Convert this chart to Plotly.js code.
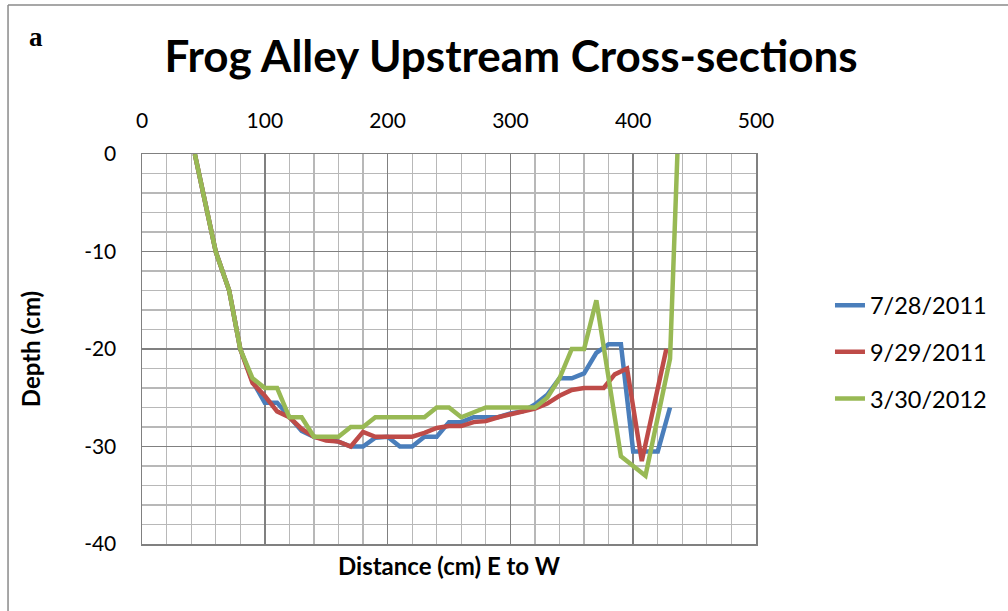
<!DOCTYPE html>
<html>
<head>
<meta charset="utf-8">
<script src="https://cdn.plot.ly/plotly-3.0.1.min.js"></script>
<style>html,body{margin:0;padding:0;background:#fff;}#chart{width:1008px;height:611px;}</style>
</head>
<body>
<div id="chart"></div>
<script>
// Series names
const seriesNames = ["7/28/2011", "9/29/2011", "3/30/2012"];

// 7/28/2011
const distJul2011 = [43, 60, 71, 80, 90, 100, 110, 120, 130, 140, 150, 160, 170, 180, 190, 200, 210, 220, 230, 240, 250, 260, 270, 280, 290, 300, 310, 320, 330, 340, 350, 360, 370, 380, 390, 400, 410, 420, 430];
const depthJul2011 = [0, -10, -14, -20, -23.3, -25.5, -25.5, -27, -28.4, -29, -29.3, -29.5, -30, -30, -29.1, -29, -30, -30, -29, -29, -27.5, -27.5, -27, -27, -27, -26.6, -26.4, -25.7, -24.7, -23, -23, -22.5, -20.4, -19.5, -19.5, -30.5, -30.5, -30.5, -26];

// 9/29/2011
const distSep2011 = [43, 60, 71, 80, 90, 100, 110, 120, 130, 140, 150, 160, 170, 180, 190, 200, 210, 220, 230, 240, 250, 260, 270, 280, 290, 300, 310, 320, 330, 340, 350, 360, 370, 376, 385, 395, 407, 427];
const depthSep2011 = [0, -10, -14, -20, -23.5, -24.8, -26.4, -27, -28.2, -29, -29.4, -29.5, -30, -28.5, -29, -29, -29, -29, -28.6, -28.1, -27.9, -27.9, -27.5, -27.4, -27, -26.7, -26.3, -26.1, -25.6, -24.8, -24.2, -24, -24, -24, -22.6, -22, -31.5, -20];

// 3/30/2012
const distMar2012 = [43, 60, 71, 80, 90, 100, 110, 120, 130, 140, 150, 160, 170, 180, 190, 200, 210, 220, 230, 240, 250, 260, 270, 280, 290, 300, 310, 320, 330, 340, 350, 360, 370, 390, 410, 430, 436];
const depthMar2012 = [0, -10, -14, -20, -23, -24, -24, -27, -27, -29, -29, -29, -28, -28, -27, -27, -27, -27, -27, -26, -26, -27, -26.5, -26, -26, -26, -26, -26, -25, -23, -20, -20, -15, -31, -33, -21, 0];

// Axis ticks
const xTicks = [0, 100, 200, 300, 400, 500];
const yTicks = [0, -10, -20, -30, -40];

const colors = ["#4A7EBB", "#BE4B48", "#98B954"];
const FONT = "Lato, 'Open Sans', sans-serif";

const xs = [distJul2011, distSep2011, distMar2012];
const ys = [depthJul2011, depthSep2011, depthMar2012];

const traces = seriesNames.map((n, i) => ({
  type: "scatter",
  mode: "lines",
  name: n,
  legendgroup: "g" + i,
  x: xs[i],
  y: ys[i],
  line: {color: colors[i], width: 4.5},
  hoverinfo: "skip"
}));

const majorGrid = "#808080";
const minorGrid = "#b8b8b8";

const layout = {
  width: 1008,
  height: 611,
  margin: {l: 142, r: 252, t: 154, b: 67, pad: 0},
  paper_bgcolor: "#ffffff",
  plot_bgcolor: "#ffffff",
  font: {family: FONT, color: "#000000", size: 21},
  title: {
    text: "<b>Frog Alley Upstream Cross-sections</b>",
    font: {family: FONT, size: 44, color: "#000000"},
    x: 0.507, xref: "container", xanchor: "center",
    y: 0.907, yref: "container", yanchor: "middle"
  },
  xaxis: {
    side: "top",
    range: [0, 500],
    tickmode: "array",
    tickvals: xTicks,
    ticktext: xTicks.map(String),
    ticks: "",
    ticklabelstandoff: 16,
    showgrid: true,
    gridcolor: majorGrid,
    gridwidth: 1.5,
    minor: {dtick: 20, showgrid: true, gridcolor: minorGrid, gridwidth: 1.2, ticks: ""},
    showline: true,
    mirror: true,
    linecolor: majorGrid,
    linewidth: 1.5,
    zeroline: false,
    tickfont: {family: FONT, size: 21, color: "#000"},
    fixedrange: true
  },
  yaxis: {
    range: [-40, 0],
    tickmode: "array",
    tickvals: yTicks,
    ticktext: yTicks.map(String),
    ticks: "",
    ticklabelstandoff: 20,
    showgrid: true,
    gridcolor: majorGrid,
    gridwidth: 1.5,
    minor: {dtick: 2, showgrid: true, gridcolor: minorGrid, gridwidth: 1.2, ticks: ""},
    showline: true,
    mirror: true,
    linecolor: majorGrid,
    linewidth: 1.5,
    zeroline: false,
    tickfont: {family: FONT, size: 21, color: "#000"},
    title: {text: "<b>Depth (cm)</b>", font: {family: FONT, size: 24, color: "#000"}, standoff: 36},
    fixedrange: true
  },
  showlegend: true,
  legend: {
    x: 1.1205, xanchor: "left",
    y: 0.4923, yanchor: "middle",
    font: {family: FONT, size: 23.5, color: "#000"},
    bgcolor: "rgba(0,0,0,0)",
    borderwidth: 0,
    tracegroupgap: 13,
    itemwidth: 30
  },
  annotations: [
    {
      text: "<b>Distance (cm) E to W</b>",
      xref: "paper", yref: "paper",
      x: 0.5, y: -0.0564, xanchor: "center", yanchor: "middle",
      showarrow: false,
      font: {family: FONT, size: 24, color: "#000"}
    },
    {
      text: "<b>a</b>",
      xref: "paper", yref: "paper",
      x: -0.1726, y: 1.3, xanchor: "center", yanchor: "middle",
      showarrow: false,
      font: {family: "'Liberation Serif', 'DejaVu Serif', serif", size: 27, color: "#000"}
    }
  ],
  shapes: [
    {type: "line", xref: "paper", yref: "paper", x0: -0.2182, x1: -0.2182, y0: 1.382, y1: -0.3, line: {color: "#8a8a8a", width: 1.5}},
    {type: "line", xref: "paper", yref: "paper", x0: -0.2182, x1: 1.6, y0: 1.382, y1: 1.382, line: {color: "#8a8a8a", width: 1.5}}
  ]
};

Plotly.newPlot("chart", traces, layout, {displayModeBar: false, staticPlot: true});
</script>
</body>
</html>
